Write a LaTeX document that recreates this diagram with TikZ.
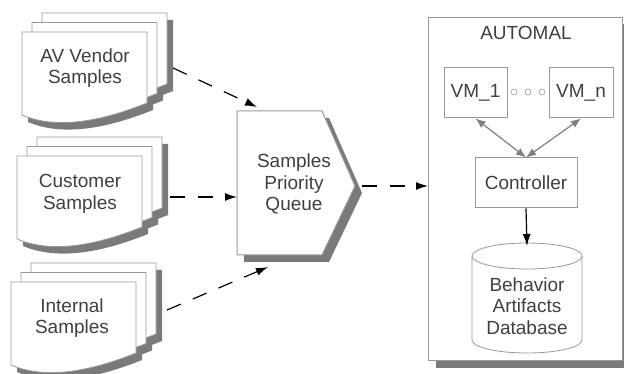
\documentclass[tikz,border=0pt]{standalone}
\usepackage{fontspec}
\setmainfont{Liberation Sans}
\usetikzlibrary{arrows.meta,shadows,calc}

\definecolor{linegray}{HTML}{999999}
\definecolor{shadegray}{HTML}{7A7A7A}
\definecolor{textgray}{HTML}{404040}
\definecolor{linkgray}{HTML}{808080}

\tikzset{
  page/.pic={\path[pic actions] (0,0) -- (125,0) -- (125,71) .. controls (90,85) and (40,100) .. (0,83) -- cycle;},
  queuebody/.pic={\path[pic actions] (0,0) -- (85,0) -- (118,75) -- (85,144) -- (0,144) -- cycle;},
  txt/.style={text=textgray, align=center, font=\fontsize{19pt}{21.5pt}\selectfont},
  box/.style={txt, draw=linegray, fill=white, line width=1pt, inner sep=0pt},
  flow/.style={-{Latex[length=12pt,width=8pt]}, line width=1.2pt, dash pattern=on 15pt off 13pt},
  link/.style={{Latex[length=10pt,width=8pt]}-{Latex[length=10pt,width=8pt]}, linkgray, line width=1.2pt},
}

% three stacked pages, #1 = top left corner of the front one
\newcommand{\docstack}[1]{%
  \begin{scope}[shift={(#1)}]
    \foreach \k in {2,1,0}
      \pic[fill=shadegray] at (10*\k+6,-9.5*\k+7) {page};
    \foreach \k in {2,1,0}
      \pic[draw=linegray,fill=white,line width=0.8pt] at (10*\k,-9.5*\k) {page};
  \end{scope}}

\begin{document}
\begin{tikzpicture}[x=1pt,y=-1pt]
\useasboundingbox (0,0) rectangle (624,374);

% sample sources
\docstack{22,32}
\docstack{17,156}
\docstack{11,282}
\node[txt] (vendor) at (85,68) {AV Vendor\\Samples};
\node[txt] (customer) at (80,194) {Customer\\Samples};
\node[txt] (internal) at (72,318) {Internal\\Samples};
\coordinate (vendor-out) at (173,68);
\coordinate (customer-out) at (170,197);
\coordinate (internal-out) at (167,310);

% priority queue
\pic[fill=shadegray] at (244,118) {queuebody};
\pic[draw=linegray,fill=white,line width=1pt] at (237,111) {queuebody};
\coordinate (q-nw) at (237,111);
\coordinate (q-sw) at (237,255);
\coordinate (q-tip) at (355,186);
\node[txt] (queue) at (294,184) {Samples\\Priority\\Queue};

% sandbox
\node[box, drop shadow={shadow xshift=7pt,shadow yshift=-7pt,fill=shadegray,opacity=1},
      minimum width=194pt, minimum height=343pt, anchor=north west] (automal) at (428,17) {};
\node[txt] (title) at (526,33) {AUTOMAL};
\node[box, minimum width=63pt, minimum height=50pt] (vm1) at (475.5,93) {VM\_1};
\node[box, minimum width=64pt, minimum height=50pt] (vmn) at (581,93) {VM\_n};
\foreach \cx in {514,528,542}
  \draw[linegray, line width=0.6pt] (\cx,92) circle (3pt);
\node[box, minimum width=102pt, minimum height=50pt] (ctrl) at (526,183) {Controller};

% database
\filldraw[draw=linegray, fill=white, line width=0.8pt]
  (472,256) -- (472,340) arc[start angle=180, end angle=360, x radius=55pt, y radius=13pt]
  -- (582,256) arc[start angle=0, end angle=180, x radius=55pt, y radius=13pt] -- cycle;
\draw[linegray, line width=0.8pt] (472,256) arc[start angle=180, end angle=360, x radius=55pt, y radius=13pt];
\coordinate (db-top) at (527,246);
\node[txt] (db) at (527,306) {Behavior\\Artifacts\\Database};

% connectors
\draw[flow] (vendor-out) -- ($(q-nw)+(20,-4)$);
\draw[flow] (customer-out) -- (customer-out -| q-nw);
\draw[flow] (internal-out) -- ($(q-sw)+(31,12)$);
\draw[flow] ([xshift=7pt]q-tip) -- (q-tip -| automal.west);
\draw[link] (vm1.south) -- (ctrl.north);
\draw[link] (vmn.south) -- (ctrl.north);
\draw[-{Latex[length=12pt,width=8pt]}, line width=1.2pt] (ctrl.south) -- (db-top);
\end{tikzpicture}
\end{document}
